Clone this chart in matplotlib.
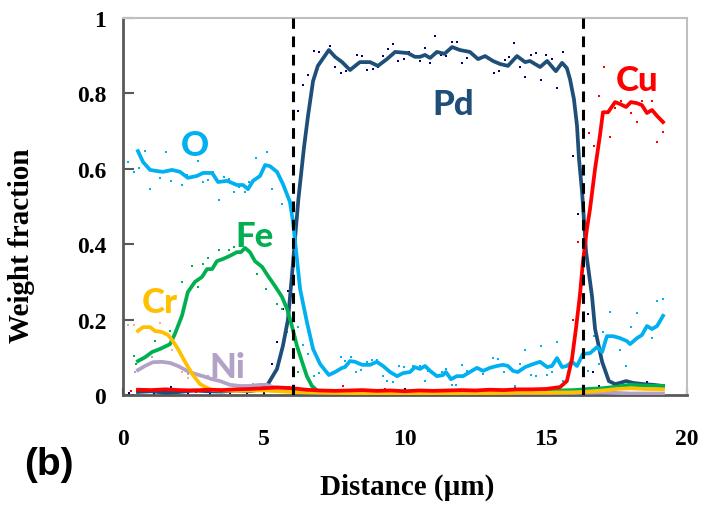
import numpy as np
import matplotlib
matplotlib.use('Agg')
import matplotlib.pyplot as plt

# smoothed profiles (lines), distance in um, weight fraction
o_x = [0.53, 0.71, 0.96, 1.2, 1.42, 1.74, 2.02, 2.3, 2.62, 2.84, 3.16, 3.37, 3.69, 4.04, 4.26, 4.43,
       4.61, 4.86, 5.04, 5.21, 5.46, 5.67, 5.92, 6.03, 6.28, 6.52, 6.74, 6.99, 7.3, 7.52, 7.77, 7.87,
       8.05, 8.23, 8.48, 8.76, 9.0, 9.22, 9.47, 9.72, 9.93, 10.18, 10.35, 10.53, 10.71, 10.89, 11.13,
       11.35, 11.45, 11.63, 11.84, 12.06, 12.3, 12.55, 12.77, 13.01, 13.26, 13.48, 13.65, 13.83, 14.0,
       14.26, 14.54, 14.79, 15.04, 15.21, 15.39, 15.57, 15.74, 15.92, 16.1, 16.31, 16.56, 16.81, 16.99,
       17.16, 17.38, 17.62, 17.87, 17.98, 18.23, 18.4, 18.58, 18.76, 18.94, 19.15]
o_y = [0.647, 0.618, 0.597, 0.594, 0.592, 0.597, 0.592, 0.576, 0.581, 0.589, 0.589, 0.565, 0.568,
       0.557, 0.557, 0.546, 0.568, 0.581, 0.610, 0.607, 0.592, 0.560, 0.512, 0.459, 0.281, 0.194,
       0.122, 0.082, 0.053, 0.061, 0.072, 0.074, 0.090, 0.088, 0.080, 0.080, 0.088, 0.077, 0.061,
       0.050, 0.058, 0.061, 0.074, 0.069, 0.077, 0.064, 0.050, 0.053, 0.061, 0.042, 0.050, 0.050,
       0.061, 0.072, 0.064, 0.072, 0.077, 0.080, 0.077, 0.064, 0.061, 0.074, 0.082, 0.088, 0.074,
       0.077, 0.098, 0.074, 0.077, 0.088, 0.077, 0.109, 0.111, 0.127, 0.114, 0.156, 0.156, 0.151,
       0.143, 0.135, 0.151, 0.159, 0.183, 0.175, 0.183, 0.210]

pd_x = [0.53, 1.0, 1.5, 2.0, 2.5, 3.0, 3.5, 4.0, 4.5, 4.86, 5.14, 5.46, 5.67, 5.85, 5.99, 6.1, 6.22,
        6.42, 6.56, 6.74, 6.91, 7.3, 7.52, 7.77, 8.05, 8.4, 8.76, 9.04, 9.36, 9.65, 10.1, 10.35, 10.53,
        10.71, 10.89, 11.13, 11.4, 11.67, 11.95, 12.3, 12.59, 12.84, 13.12, 13.37, 13.65, 13.97, 14.26,
        14.43, 14.79, 15.04, 15.35, 15.57, 15.74, 15.85, 15.99, 16.1, 16.17, 16.28, 16.42, 16.63, 16.74,
        16.99, 17.23, 17.45, 17.62, 17.84, 18.09, 18.44, 18.79, 19.15]
pd_y = [0.008, 0.010, 0.006, 0.008, 0.012, 0.010, 0.009, 0.012, 0.010, 0.015, 0.029, 0.069, 0.130,
        0.200, 0.316, 0.414, 0.520, 0.658, 0.740, 0.833, 0.873, 0.915, 0.897, 0.883, 0.862, 0.883,
        0.883, 0.873, 0.891, 0.910, 0.907, 0.897, 0.897, 0.902, 0.894, 0.910, 0.905, 0.923, 0.915,
        0.910, 0.891, 0.899, 0.886, 0.878, 0.873, 0.899, 0.883, 0.886, 0.870, 0.886, 0.859, 0.881,
        0.867, 0.838, 0.785, 0.714, 0.626, 0.538, 0.380, 0.263, 0.175, 0.088, 0.037, 0.029, 0.032,
        0.037, 0.032, 0.029, 0.027, 0.024]

cu_x = [0.53, 1.0, 1.5, 2.0, 2.5, 3.0, 3.5, 4.0, 4.5, 5.0, 5.5, 6.0, 6.5, 7.0, 7.5, 8.0, 8.5, 9.0,
        9.5, 10.0, 10.5, 11.0, 11.5, 12.0, 12.5, 13.0, 13.5, 14.0, 14.5, 15.0, 15.5, 15.74, 15.92,
        16.06, 16.2, 16.31, 16.45, 16.56, 16.74, 16.91, 17.02, 17.2, 17.45, 17.62, 17.84, 18.01,
        18.23, 18.4, 18.58, 18.76, 18.94, 19.15]
cu_y = [0.014, 0.013, 0.015, 0.013, 0.012, 0.014, 0.013, 0.015, 0.016, 0.018, 0.020, 0.018, 0.014,
        0.012, 0.011, 0.012, 0.013, 0.011, 0.012, 0.010, 0.012, 0.011, 0.012, 0.013, 0.012, 0.014,
        0.013, 0.015, 0.015, 0.016, 0.021, 0.037, 0.095, 0.175, 0.263, 0.353, 0.440, 0.493, 0.600,
        0.687, 0.750, 0.750, 0.777, 0.772, 0.764, 0.777, 0.774, 0.769, 0.748, 0.756, 0.740, 0.724]

fe_x = [0.53, 0.78, 1.03, 1.31, 1.67, 1.84, 2.09, 2.3, 2.55, 2.8, 2.98, 3.16, 3.33, 3.55, 3.79, 4.04,
        4.18, 4.33, 4.5, 4.68, 4.93, 5.14, 5.39, 5.64, 5.82, 5.99, 6.17, 6.35, 6.52, 6.7, 6.91, 7.5,
        8.5, 9.5, 10.5, 11.5, 12.5, 13.5, 14.5, 15.5, 16.0, 16.5, 17.0, 17.5, 18.0, 18.5, 19.15]
fe_y = [0.090, 0.100, 0.114, 0.122, 0.135, 0.162, 0.210, 0.273, 0.300, 0.313, 0.334, 0.334, 0.355,
        0.361, 0.369, 0.379, 0.379, 0.390, 0.379, 0.355, 0.340, 0.316, 0.289, 0.260, 0.228, 0.183,
        0.130, 0.088, 0.050, 0.024, 0.010, 0.008, 0.009, 0.007, 0.008, 0.009, 0.008, 0.010, 0.010,
        0.012, 0.013, 0.016, 0.018, 0.022, 0.027, 0.025, 0.024]

cr_x = [0.53, 0.71, 0.96, 1.13, 1.38, 1.6, 1.77, 1.95, 2.2, 2.45, 2.73, 2.98, 3.19, 4.0, 5.0, 6.0,
        7.0, 8.0, 9.0, 10.0, 11.0, 12.0, 13.0, 14.0, 15.0, 16.0, 16.5, 17.0, 17.5, 18.0, 18.5, 19.15]
cr_y = [0.170, 0.180, 0.180, 0.170, 0.167, 0.159, 0.143, 0.122, 0.088, 0.056, 0.029, 0.019, 0.013,
        0.011, 0.012, 0.008, 0.006, 0.005, 0.004, 0.005, 0.004, 0.005, 0.005, 0.006, 0.006, 0.007,
        0.009, 0.012, 0.016, 0.018, 0.016, 0.015]

ni_x = [0.53, 0.78, 1.06, 1.38, 1.67, 1.95, 2.27, 2.55, 2.84, 3.16, 3.44, 3.79, 4.15, 4.5, 4.86, 5.1,
        5.32, 6.0, 7.0, 8.0, 9.0, 10.0, 11.0, 12.0, 13.0, 14.0, 15.0, 16.0, 17.0, 18.0, 19.15]
ni_y = [0.066, 0.077, 0.087, 0.088, 0.085, 0.077, 0.064, 0.056, 0.050, 0.042, 0.037, 0.027, 0.024,
        0.024, 0.027, 0.027, 0.021, 0.014, 0.010, 0.008, 0.007, 0.007, 0.006, 0.006, 0.006, 0.006,
        0.006, 0.006, 0.007, 0.004, 0.004]

# raw measurement points (dots)
od_x = [0.0, 0.18, 0.39, 0.57, 0.78, 0.96, 1.31, 1.52, 1.7, 2.09, 2.27, 2.66, 2.84, 3.01, 3.19, 3.4,
        3.58, 3.76, 3.94, 4.11, 4.33, 4.47, 4.72, 5.1, 5.28, 5.64, 6.21, 6.38, 6.56, 6.77, 6.95, 7.73,
        7.87, 8.09, 8.26, 8.44, 8.65, 8.83, 9.0, 9.22, 9.36, 9.57, 9.79, 9.96, 10.28, 10.53, 10.71,
        10.82, 11.31, 11.45, 11.67, 11.81, 12.02, 12.2, 12.77, 13.12, 13.3, 13.51, 13.9, 14.08, 14.26,
        14.47, 14.65, 14.82, 15.04, 15.21, 15.39, 15.6, 15.96, 16.49, 16.7, 16.88, 17.02, 17.27, 17.62,
        17.84, 18.01, 18.23, 18.76, 18.94, 19.15]
od_y = [0.775, 0.618, 0.592, 0.602, 0.647, 0.546, 0.576, 0.645, 0.568, 0.557, 0.584, 0.621, 0.565,
        0.570, 0.592, 0.517, 0.578, 0.573, 0.538, 0.552, 0.538, 0.565, 0.629, 0.645, 0.546, 0.507,
        0.180, 0.133, 0.109, 0.050, 0.058, 0.101, 0.090, 0.101, 0.061, 0.066, 0.088, 0.093, 0.093,
        0.050, 0.037, 0.034, 0.077, 0.074, 0.077, 0.077, 0.037, 0.064, 0.061, 0.069, 0.027, 0.027,
        0.080, 0.064, 0.056, 0.098, 0.095, 0.061, 0.024, 0.082, 0.119, 0.053, 0.050, 0.130, 0.053,
        0.061, 0.141, 0.037, 0.127, 0.064, 0.156, 0.082, 0.167, 0.220, 0.119, 0.077, 0.180, 0.218,
        0.151, 0.249, 0.255]

pdd_x = [0.2, 0.6, 1.1, 1.7, 2.3, 3.1, 3.8, 4.4, 5.28, 5.46, 5.67, 5.85, 6.21, 6.38, 6.56, 6.77, 6.95,
         7.34, 7.52, 7.73, 7.91, 8.3, 8.48, 8.65, 8.87, 9.04, 9.22, 9.4, 9.57, 9.75, 9.96, 10.14, 10.53,
         10.71, 10.89, 11.08, 11.28, 11.45, 11.67, 11.84, 12.02, 12.2, 13.16, 13.33, 13.55, 13.69,
         13.87, 14.08, 14.26, 14.47, 14.65, 14.82, 15.0, 15.21, 15.39, 15.6, 15.96, 16.13, 16.49,
         16.67, 16.88, 17.3, 18.58]
pdd_y = [0.005, 0.015, 0.002, 0.020, 0.004, 0.003, 0.005, 0.006, 0.082, 0.141, 0.228, 0.276, 0.753,
         0.822, 0.849, 0.912, 0.910, 0.926, 0.870, 0.854, 0.859, 0.902, 0.899, 0.862, 0.865, 0.870,
         0.899, 0.918, 0.931, 0.886, 0.891, 0.910, 0.886, 0.920, 0.881, 0.951, 0.902, 0.899, 0.936,
         0.936, 0.881, 0.894, 0.854, 0.859, 0.889, 0.897, 0.934, 0.870, 0.843, 0.902, 0.907, 0.836,
         0.902, 0.891, 0.814, 0.910, 0.634, 0.480, 0.215, 0.061, 0.024, 0.034, 0.034]

cud_x = [0.3, 1.2, 2.6, 4.2, 5.9, 7.8, 9.3, 11.7, 13.9, 15.96, 16.13, 16.31, 16.52, 16.7, 16.88, 17.06,
         17.27, 17.45, 17.66, 18.01, 18.23, 18.4, 18.76, 18.94, 19.15]
cud_y = [0.010, 0.016, 0.008, 0.012, 0.020, 0.024, 0.015, 0.012, 0.018, 0.200, 0.406, 0.483, 0.695,
         0.660, 0.793, 0.870, 0.684, 0.761, 0.780, 0.748, 0.724, 0.780, 0.780, 0.671, 0.698]

fed_x = [0.39, 0.45, 1.13, 1.67, 2.09, 2.45, 2.66, 2.84, 3.01, 3.4, 3.76, 3.94, 4.18, 4.75, 5.07, 5.46,
         5.64, 5.82, 6.03, 6.21, 6.5, 17.5, 18.2]
fed_y = [0.103, 0.082, 0.143, 0.170, 0.300, 0.342, 0.287, 0.347, 0.363, 0.385, 0.385, 0.393, 0.403,
         0.321, 0.281, 0.241, 0.228, 0.167, 0.101, 0.061, 0.050, 0.030, 0.028]

crd_x = [0.0, 0.18, 0.39, 1.13, 1.31, 1.75, 2.09, 2.3]
crd_y = [0.119, 0.186, 0.186, 0.167, 0.191, 0.120, 0.061, 0.045]

nid_x = [0.0, 0.43, 1.03, 2.3, 3.0, 4.6]
nid_y = [0.045, 0.061, 0.100, 0.056, 0.050, 0.030]

interfaces = [6.03, 16.3]
x_ticks = [0, 5, 10, 15, 20]
y_ticks = [0, 0.2, 0.4, 0.6, 0.8, 1.0]
y_ticklabels = ['0', '0.2', '0.4', '0.6', '0.8', '1']

# element labels: (text, x, baseline y, colour)
labels = [('O', 2.55, 0.637, '#00B0F0'),
          ('Pd', 11.7, 0.745, '#1F4E79'),
          ('Cu', 18.23, 0.809, '#FF0000'),
          ('Fe', 4.65, 0.396, '#00B050'),
          ('Cr', 1.31, 0.220, '#FFC000'),
          ('Ni', 3.69, 0.048, '#B3A2C7')]

serif = ['Liberation Serif', 'DejaVu Serif']

fig = plt.figure(figsize=(7.08, 5.06), dpi=100)
ax = fig.add_axes([123/708, 110/506, 564/708, 377/506])

# dots
dot = dict(marker='s', s=3.5, linewidths=0, zorder=2)
ax.scatter(pdd_x, pdd_y, color='#000080', **dot)
ax.scatter(od_x, od_y, color='#00B0F0', **dot)
ax.scatter(fed_x, fed_y, color='#00B050', **dot)
ax.scatter(crd_x, crd_y, color='#F4B183', **dot)
ax.scatter(nid_x, nid_y, color='#B3A2C7', **dot)
ax.scatter(cud_x, cud_y, color='#FF0000', **dot)

# smoothed lines
lw = 2.7
ax.plot(pd_x, pd_y, color='#1F4E79', lw=lw, zorder=3)
ax.plot(o_x, o_y, color='#00B0F0', lw=lw, zorder=3)
ax.plot(fe_x, fe_y, color='#00B050', lw=lw, zorder=3)
ax.plot(ni_x, ni_y, color='#B3A2C7', lw=lw, zorder=3)
ax.plot(cr_x, cr_y, color='#FFC000', lw=lw, zorder=3)
ax.plot(cu_x, cu_y, color='#FF0000', lw=lw, zorder=3)

# interface markers
for xi in interfaces:
    ax.axvline(xi, color='black', lw=2.2, ls=(0, (3.5, 2.5)), zorder=4)

for txt, tx, ty, col in labels:
    ax.text(tx, ty, txt, color=col, fontsize=25, fontweight='black', family=['Lato', 'DejaVu Sans'],
            ha='center', va='baseline', zorder=5)

ax.set_xlim(0, 20)
ax.set_ylim(0, 1)
ax.set_xticks(x_ticks)
ax.set_xticklabels([str(v) for v in x_ticks])
ax.set_yticks(y_ticks)
ax.set_yticklabels(y_ticklabels)
for lab in ax.get_xticklabels() + ax.get_yticklabels():
    lab.set_family(serif)
    lab.set_fontweight('bold')
    lab.set_fontsize(17)
ax.tick_params(axis='x', direction='in', length=5, width=1.5, color='black', pad=24)
ax.tick_params(axis='y', direction='in', length=8, width=1.5, color='#595959', pad=12)

for side in ['left', 'bottom']:
    ax.spines[side].set_color('#595959')
    ax.spines[side].set_linewidth(2)
for side in ['top', 'right']:
    ax.spines[side].set_color('#BFBFBF')
    ax.spines[side].set_linewidth(1.5)

fig.text(22/708, 1 - 246/506, 'Weight fraction', rotation=90, ha='center', va='center',
         family=serif, fontweight='bold', fontsize=21)
fig.text(407/708, 1 - 487/506, 'Distance (\u00b5m)', ha='center', va='center',
         family=serif, fontweight='bold', fontsize=21)
fig.text(49/708, 1 - 465/506, '(b)', ha='center', va='center',
         family=['Liberation Sans', 'DejaVu Sans'], fontweight='bold', fontsize=28)

fig.savefig('out.png', dpi=100)
